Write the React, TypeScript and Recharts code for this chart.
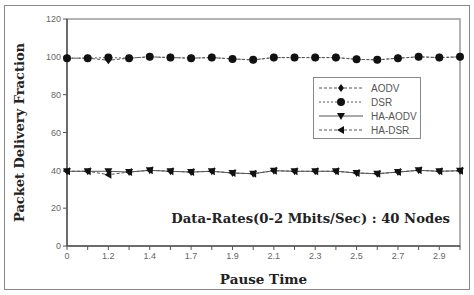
import React from 'react';
import { LineChart, Line, XAxis, YAxis, ReferenceArea } from 'recharts';

const pauseTimes = ['0', '1.1', '1.2', '1.3', '1.4', '1.6', '1.7', '1.8', '1.9', '2.0', '2.1', '2.2', '2.3', '2.4', '2.5', '2.6', '2.7', '2.8', '2.9', '3.0'];
const aodv = [99.3, 99.3, 98.2, 99.3, 100, 99.6, 99.3, 99.6, 98.9, 98.4, 99.6, 99.6, 99.6, 99.6, 98.7, 98.4, 99.3, 100, 99.6, 100];
const dsr = [99.3, 99.3, 99.6, 99.3, 100, 99.6, 99.3, 99.6, 98.9, 98.4, 99.6, 99.6, 99.6, 99.6, 98.7, 98.4, 99.3, 100, 99.6, 100];
const haAodv = [39.5, 39.5, 39.5, 39.1, 40, 39.5, 39.1, 39.5, 38.6, 38.2, 39.8, 39.5, 39.5, 39.5, 38.6, 38.2, 39.1, 40, 39.5, 39.8];
const haDsr = [39.5, 39.5, 37.7, 39.1, 40, 39.5, 39.1, 39.5, 38.6, 38.2, 39.8, 39.5, 39.5, 39.5, 38.6, 38.2, 39.1, 40, 39.5, 39.8];
const yTicks = [0, 20, 40, 60, 80, 100, 120];

const data = pauseTimes.map((t, i) => ({ t, aodv: aodv[i], dsr: dsr[i], haAodv: haAodv[i], haDsr: haDsr[i] }));

const INK = '#111';
const LINE = '#555';

type Mark = 'diamond' | 'circle' | 'down' | 'left';

function markerPath(kind: Mark, cx: number, cy: number) {
  switch (kind) {
    case 'diamond':
      return `M${cx},${cy - 4}L${cx + 3},${cy}L${cx},${cy + 4}L${cx - 3},${cy}Z`;
    case 'down':
      return `M${cx - 4},${cy - 3}L${cx + 4},${cy - 3}L${cx},${cy + 4}Z`;
    case 'left':
      return `M${cx - 4},${cy}L${cx + 3},${cy - 4}L${cx + 3},${cy + 4}Z`;
    default:
      return '';
  }
}

function Marker({ kind, cx, cy }: { kind: Mark; cx: number; cy: number }) {
  if (cx == null || cy == null) return null;
  if (kind === 'circle') return <circle cx={cx} cy={cy} r={4} fill={INK} />;
  return <path d={markerPath(kind, cx, cy)} fill={INK} />;
}

const series = [
  { key: 'aodv', name: 'AODV', mark: 'diamond' as Mark, dash: '3 2' },
  { key: 'dsr', name: 'DSR', mark: 'circle' as Mark, dash: '2 2' },
  { key: 'haAodv', name: 'HA-AODV', mark: 'down' as Mark, dash: undefined },
  { key: 'haDsr', name: 'HA-DSR', mark: 'left' as Mark, dash: '3 2' },
];

function LegendBox() {
  return (
    <div style={{ position: 'absolute', left: 313, top: 77, width: 108, height: 62, border: '1px solid #888', background: '#fff', padding: '3px 0 0 4px', boxSizing: 'border-box' }}>
      {series.map(s => (
        <div key={s.key} style={{ display: 'flex', alignItems: 'center', height: 14, whiteSpace: 'nowrap' }}>
          <svg width={46} height={12}>
            <line x1={1} y1={6} x2={45} y2={6} stroke={LINE} strokeWidth={1} strokeDasharray={s.dash} />
            <Marker kind={s.mark} cx={23} cy={6} />
          </svg>
          <span style={{ fontFamily: '"Liberation Sans", Arial, sans-serif', fontSize: 10, color: '#555', marginLeft: 7 }}>{s.name}</span>
        </div>
      ))}
    </div>
  );
}

function XTick({ x, y, payload, index }: any) {
  if (index % 2 !== 0) return null;
  return (
    <text x={x} y={y + 7} textAnchor="middle" fontSize={9} fill="#666" fontFamily='"Liberation Sans", Arial, sans-serif'>
      {payload.value}
    </text>
  );
}

export default function App() {
  return (
    <div style={{ position: 'absolute', left: 0, top: 0, width: 474, height: 295, background: '#fff' }}>
      <div style={{ position: 'absolute', left: 4, top: 5, width: 466, height: 285, border: '1.5px solid #888', boxSizing: 'border-box' }} />
      <LineChart width={474} height={295} data={data} margin={{ top: 19, right: 14, bottom: 0, left: 0 }}>
        <XAxis dataKey="t" interval={0} height={49} tick={<XTick />} tickSize={4} stroke="#555" axisLine={{ stroke: '#555', strokeWidth: 1.5 }}
          label={{ value: 'Pause Time', position: 'insideBottom', offset: 11, fontFamily: '"DejaVu Serif", serif', fontWeight: 'bold', fontSize: 13.5, fill: '#222' }} />
        <YAxis domain={[0, 120]} ticks={yTicks} width={67} tickSize={4} stroke="#555" axisLine={{ stroke: '#555', strokeWidth: 1.5 }}
          tick={{ fontSize: 9, fill: '#666', fontFamily: '"Liberation Sans", Arial, sans-serif' }}
          label={{ value: 'Packet Delivery Fraction', angle: -90, position: 'insideLeft', offset: 19, style: { textAnchor: 'middle' }, fontFamily: '"DejaVu Serif", serif', fontWeight: 'bold', fontSize: 13, fill: '#222' }} />
        <ReferenceArea x1="0" x2="3.0" y1={0} y2={120} fill="none" stroke="#999" strokeWidth={1.5} ifOverflow="visible" />
        {series.map(s => (
          <Line key={s.key} dataKey={s.key} name={s.name} stroke={LINE} strokeWidth={1} strokeDasharray={s.dash}
            isAnimationActive={false}
            dot={(p: any) => <Marker key={`${s.key}-${p.index}`} kind={s.mark} cx={p.cx} cy={p.cy} />}
            activeDot={false} />
        ))}
      </LineChart>
      <LegendBox />
      <div style={{ position: 'absolute', right: 24, top: 211, fontFamily: '"DejaVu Serif", serif', fontWeight: 'bold', fontSize: 13.2, color: '#222', whiteSpace: 'nowrap' }}>
        Data-Rates(0-2 Mbits/Sec) : 40 Nodes
      </div>
    </div>
  );
}
